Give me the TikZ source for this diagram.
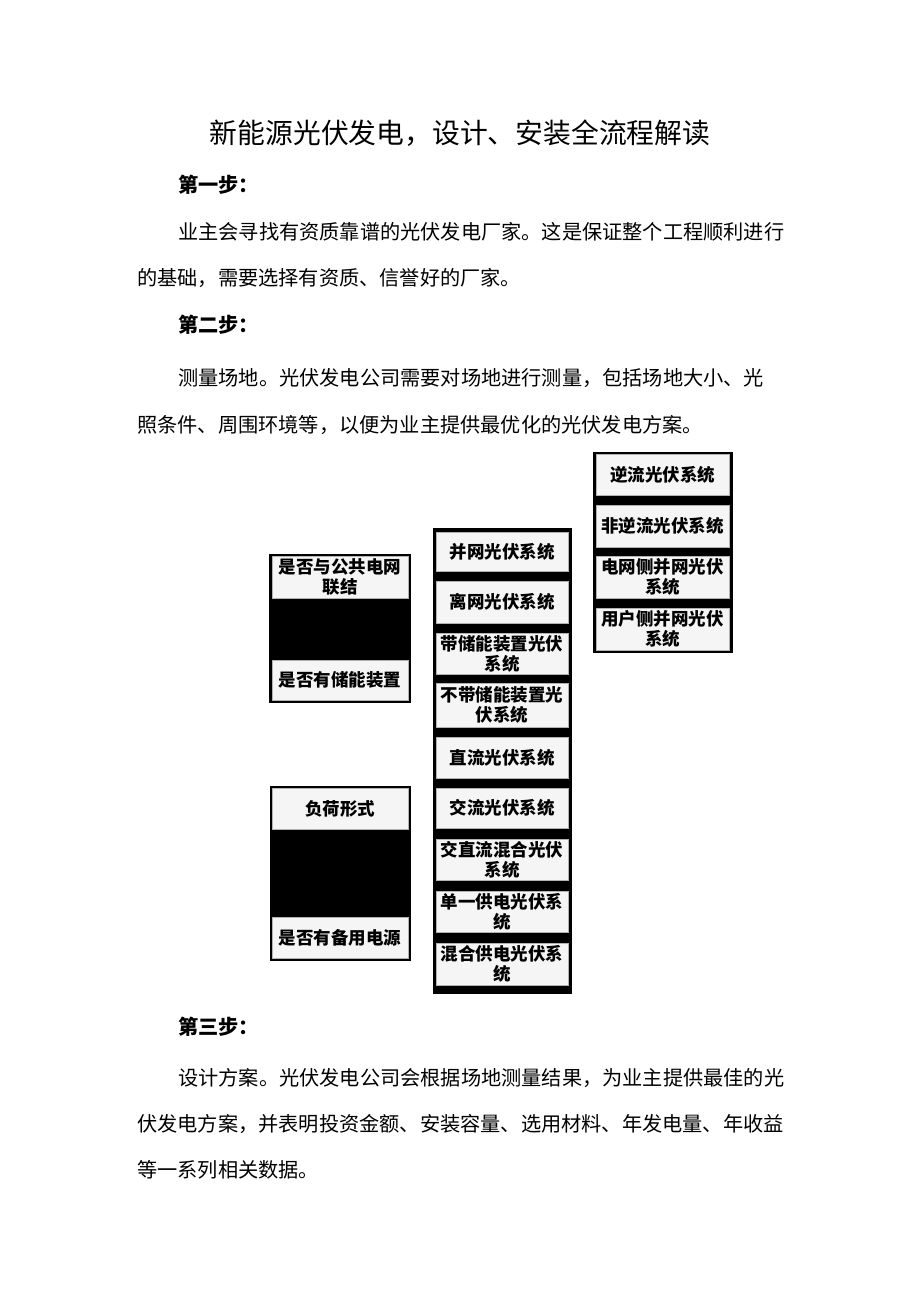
\documentclass[tikz,border=0pt]{standalone}
\usepackage{fontspec}
\setmainfont{Noto Sans CJK SC}
\begin{document}
\begin{tikzpicture}[x=1pt,y=-1pt,
  txt/.style={anchor=west,inner sep=0pt,font=\fontsize{20.2}{22}\selectfont},
  hd/.style={anchor=west,inner sep=0pt,font=\fontsize{20.2}{22}\selectfont\bfseries},
  outer/.style={fill=black,draw=black},
  wbox/.style={fill=gray!8,draw=gray!60,line width=0.4pt},
  lbl/.style={inner sep=0pt,align=center,font=\fontsize{17.5}{20}\selectfont\bfseries}]
\useasboundingbox (0,0) rectangle (920,1301);
\node[inner sep=0pt,font=\fontsize{27.8}{30}\selectfont] (title) at (460,133) {新能源光伏发电，设计、安装全流程解读};
\node[hd] (s1) at (178,185) {第一步：};
\node[txt] (p1a) at (178,232) {业主会寻找有资质靠谱的光伏发电厂家。这是保证整个工程顺利进行};
\node[txt] (p1b) at (137,278) {的基础，需要选择有资质、信誉好的厂家。};
\node[hd] (s2) at (178,325) {第二步：};
\node[txt] (p2a) at (178,378) {测量场地。光伏发电公司需要对场地进行测量，包括场地大小、光};
\node[txt] (p2b) at (137,425) {照条件、周围环境等，以便为业主提供最优化的光伏发电方案。};
\node[hd] (s3) at (178,1027) {第三步：};
\node[txt] (p3a) at (178,1078) {设计方案。光伏发电公司会根据场地测量结果，为业主提供最佳的光};
\node[txt] (p3b) at (137,1124) {伏发电方案，并表明投资金额、安装容量、选用材料、年发电量、年收益};
\node[txt] (p3c) at (137,1170) {等一系列相关数据。};
% outer black frames
\draw[outer] (269,554) rectangle (410,702);
\draw[outer] (270,786) rectangle (410,960);
\draw[outer] (433,528) rectangle (571,993);
\draw[outer] (593,452) rectangle (732,652);
% boxes
\newcommand{\wb}[6]{\draw[wbox] (#2,#3) rectangle (#4,#5); \node[lbl] (#1) at ({(#2+#4)/2},{(#3+#5)/2}) {#6};}
\wb{a1}{272}{556}{408}{598}{是否与公共电网\\联结}
\wb{a2}{272}{660}{408}{700}{是否有储能装置}
\wb{b1}{272}{788}{408}{829}{负荷形式}
\wb{b2}{272}{917}{408}{958}{是否有备用电源}
\wb{m1}{436}{532}{568}{571}{并网光伏系统}
\wb{m2}{436}{581}{568}{623}{离网光伏系统}
\wb{m3}{436}{633}{568}{674}{带储能装置光伏\\系统}
\wb{m4}{436}{683}{568}{727}{不带储能装置光\\伏系统}
\wb{m5}{436}{737}{568}{778}{直流光伏系统}
\wb{m6}{436}{788}{568}{828}{交流光伏系统}
\wb{m7}{436}{839}{568}{880}{交直流混合光伏\\系统}
\wb{m8}{436}{891}{568}{932}{单一供电光伏系\\统}
\wb{m9}{436}{943}{568}{985}{混合供电光伏系\\统}
\wb{r1}{596}{454}{729}{495}{逆流光伏系统}
\wb{r2}{596}{505}{729}{547}{非逆流光伏系统}
\wb{r3}{596}{556}{729}{598}{电网侧并网光伏\\系统}
\wb{r4}{596}{608}{729}{650}{用户侧并网光伏\\系统}
\end{tikzpicture}
\end{document}
